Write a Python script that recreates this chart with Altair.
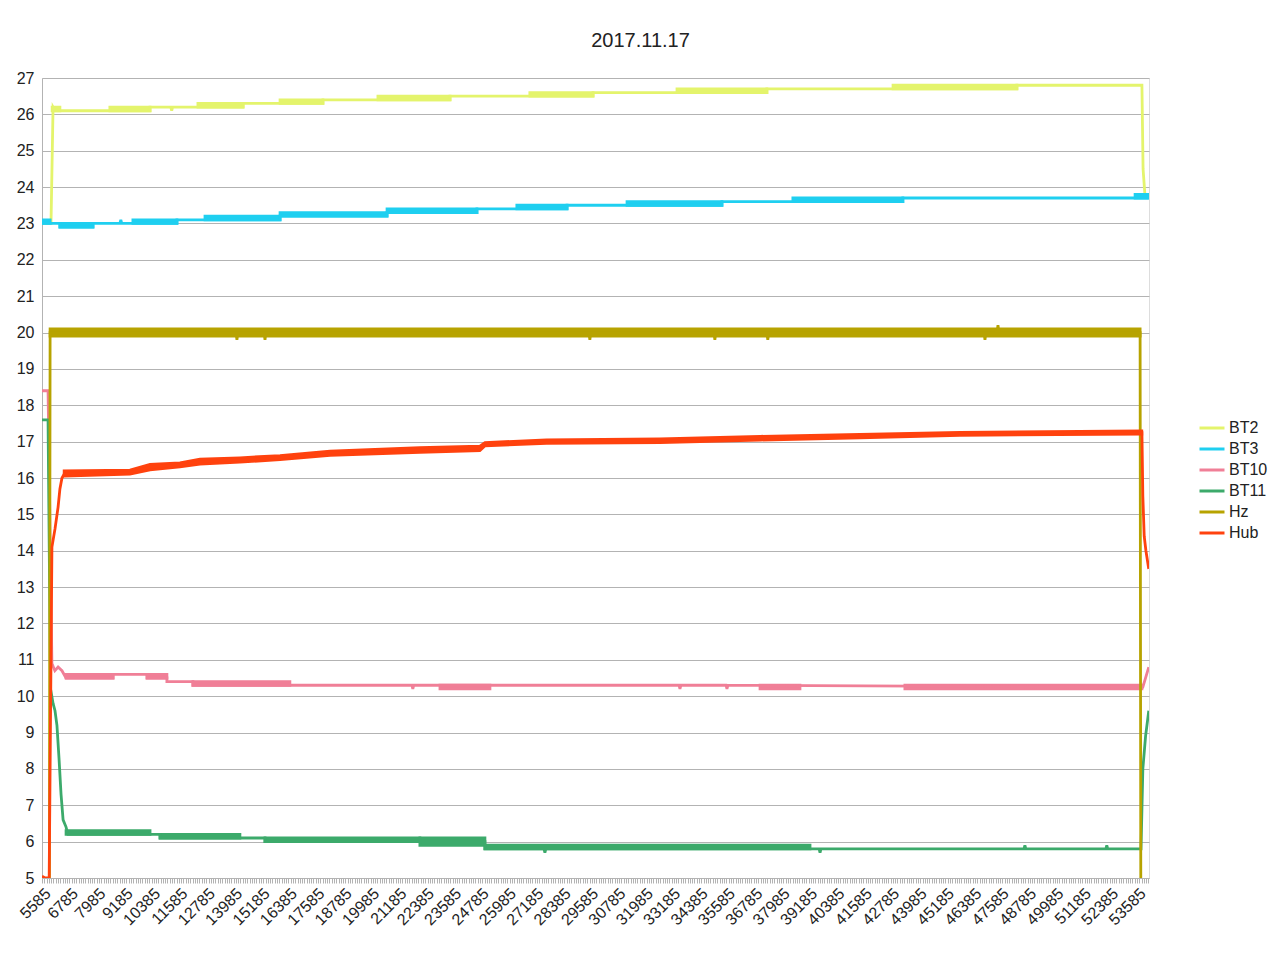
import altair as alt
import pandas as pd

SERIES = ["BT2", "BT3", "BT10", "BT11", "Hz", "Hub"]
COLORS = ["#e4f46c", "#1fcff0", "#f07f97", "#3caa6b", "#b7a300", "#ff420e"]

X_LABELS = [5585, 6785, 7985, 9185, 10385, 11585, 12785, 13985, 15185, 16385,
            17585, 18785, 19985, 21185, 22385, 23585, 24785, 25985, 27185, 28385,
            29585, 30785, 31985, 33185, 34385, 35585, 36785, 37985, 39185, 40385,
            41585, 42785, 43985, 45185, 46385, 47585, 48785, 49985, 51185, 52385,
            53585]
Y_TICKS = list(range(5, 28))

# ---- line paths (x, value) ----
BT2_X = [5585, 5980, 6070, 6160, 10320, 10320, 11230, 11270, 11310, 14400, 14400,
         17900, 17900, 23470, 23470, 29740, 29740, 37360, 37360, 48320, 48320,
         53800, 53850, 53930, 54060]
BT2_Y = [23.0, 23.0, 26.2, 26.1, 26.1, 26.2, 26.2, 26.1, 26.2, 26.2, 26.3,
         26.3, 26.4, 26.4, 26.5, 26.5, 26.6, 26.6, 26.7, 26.7, 26.8,
         26.8, 24.5, 23.8, 23.7]
BT2_BANDS = [(6030, 6370, 26.1, 26.2), (8560, 10320, 26.1, 26.2), (12420, 14400, 26.2, 26.3),
             (16020, 17900, 26.3, 26.4), (20310, 23470, 26.4, 26.5), (26970, 29740, 26.5, 26.6),
             (33420, 37360, 26.6, 26.7), (42890, 48320, 26.7, 26.8)]

BT3_X = [5585, 6370, 6370, 7820, 7820, 9000, 9040, 9080, 11500, 11500, 16020, 16020,
         20710, 20710, 24650, 24650, 28600, 28600, 35390, 35390, 43320, 43320, 54100]
BT3_Y = [23.0, 23.0, 22.9, 22.9, 23.0, 23.0, 23.1, 23.0, 23.0, 23.1, 23.1, 23.2,
         23.2, 23.3, 23.3, 23.4, 23.4, 23.5, 23.5, 23.6, 23.6, 23.7, 23.7]
BT3_BANDS = [(5585, 5940, 23.0, 23.1), (6370, 7820, 22.9, 23.0), (9570, 11500, 23.0, 23.1),
             (12730, 16020, 23.1, 23.2), (16020, 20710, 23.2, 23.3), (20710, 24650, 23.3, 23.4),
             (26400, 28600, 23.4, 23.5), (31230, 35390, 23.5, 23.6), (38500, 43320, 23.6, 23.7),
             (53500, 54100, 23.7, 23.8)]

BT10_X = [5585, 5850, 6020, 6150, 6290, 6460, 6640, 8700, 8700, 10190, 10190, 11060, 11060,
          12200, 12200, 21800, 21840, 21880, 33510, 33550, 33590, 35570, 35610, 35650,
          53840, 54100]
BT10_Y = [18.4, 18.4, 10.9, 10.7, 10.8, 10.7, 10.5, 10.5, 10.6, 10.6, 10.5, 10.5, 10.4,
          10.4, 10.3, 10.3, 10.2, 10.3, 10.3, 10.2, 10.3, 10.3, 10.2, 10.3,
          10.25, 10.8]
BT10_BANDS = [(6640, 8700, 10.5, 10.6), (10190, 11060, 10.5, 10.6), (12200, 16450, 10.3, 10.4),
              (23030, 25220, 10.2, 10.3), (37060, 38810, 10.2, 10.3), (43410, 53800, 10.2, 10.3)]

BT11_X = [5585, 5850, 5960, 6070, 6155, 6240, 6330, 6420, 6510, 6640, 6720, 10760, 10760,
          15360, 15360, 25000, 25000, 27590, 27630, 27670, 39650, 39690, 39730,
          48630, 48670, 48710, 52220, 52260, 52300, 53760, 53840, 53960, 54100]
BT11_Y = [17.6, 17.6, 10.2, 9.8, 9.6, 9.2, 8.3, 7.3, 6.6, 6.4, 6.2, 6.2, 6.1,
          6.1, 6.0, 6.0, 5.8, 5.8, 5.7, 5.8, 5.8, 5.7, 5.8,
          5.8, 5.9, 5.8, 5.8, 5.9, 5.8, 5.8, 8.0, 8.9, 9.6]
BT11_BANDS = [(6640, 10320, 6.2, 6.3), (10760, 14260, 6.1, 6.2), (15360, 22150, 6.0, 6.1),
              (22150, 25000, 5.9, 6.1), (25000, 39250, 5.8, 5.9)]

HZ_X = [5585, 5900, 5940, 14090, 14130, 14170, 15320, 15360, 15400, 29560, 29600, 29640,
        35040, 35080, 35120, 37360, 37400, 37440, 46880, 46920, 46960, 47450, 47490, 47530,
        53720, 53760, 54100]
HZ_Y = [0.0, 0.0, 20.0, 20.0, 19.8, 20.0, 20.0, 19.8, 20.0, 20.0, 19.8, 20.0,
        20.0, 19.8, 20.0, 20.0, 19.8, 20.0, 20.0, 19.8, 20.0, 20.0, 20.2, 20.0,
        20.0, 0.0, 0.0]
HZ_BANDS = [(5940, 53720, 19.9, 20.1)]

HUB_X = [5585, 5720, 5900, 6020, 6155, 6290, 6370, 6460, 6550, 9440, 10320, 11630, 12510,
         14260, 16020, 18210, 22150, 24780, 25000, 27700, 32670, 37060, 41440, 45820,
         53800, 53840, 53900, 53975, 54100]
HUB_Y = [5.05, 5.0, 5.0, 14.1, 14.6, 15.2, 15.7, 16.0, 16.1, 16.15, 16.3, 16.36, 16.45,
         16.5, 16.55, 16.68, 16.77, 16.82, 16.94, 17.0, 17.02, 17.1, 17.16, 17.21,
         17.25, 15.5, 14.4, 14.0, 13.5]
HUB_BAND_X = [6550, 9440, 10320, 11630, 12510, 14260, 16020, 18210, 22150, 24780, 25000,
              27700, 32670, 37060, 41440, 45820, 53800]
HUB_BAND_LO = [16.05, 16.1, 16.22, 16.3, 16.38, 16.43, 16.5, 16.62, 16.7, 16.75, 16.88,
               16.95, 16.97, 17.04, 17.1, 17.17, 17.2]
HUB_BAND_HI = [16.2, 16.22, 16.38, 16.42, 16.52, 16.56, 16.62, 16.74, 16.84, 16.88, 16.98,
               17.05, 17.08, 17.15, 17.2, 17.26, 17.3]

paths = {"BT2": (BT2_X, BT2_Y), "BT3": (BT3_X, BT3_Y), "BT10": (BT10_X, BT10_Y),
         "BT11": (BT11_X, BT11_Y), "Hz": (HZ_X, HZ_Y), "Hub": (HUB_X, HUB_Y)}
bands = {"BT2": BT2_BANDS, "BT3": BT3_BANDS, "BT10": BT10_BANDS,
         "BT11": BT11_BANDS, "Hz": HZ_BANDS}

line_rows = []
for s, (xs, ys) in paths.items():
    for i, (xv, yv) in enumerate(zip(xs, ys)):
        line_rows.append({"series": s, "x": xv, "y": yv, "order": i})
line_df = pd.DataFrame(line_rows)

band_rows = []
for s, bl in bands.items():
    for (x0, x1, lo, hi) in bl:
        band_rows.append({"series": s, "x0": x0, "x1": x1, "lo": lo, "hi": hi})
band_df = pd.DataFrame(band_rows)

hub_band_df = pd.DataFrame({"series": "Hub", "x": HUB_BAND_X, "lo": HUB_BAND_LO, "hi": HUB_BAND_HI})

FONT = "Liberation Sans"
GRID = "#b3b3b3"
X_DOMAIN = [5585, 54110]
MINOR = list(range(5585, 54110, 100))
label_expr = "indexof([" + ",".join(str(v) for v in X_LABELS) + "], datum.value) >= 0 ? '' + datum.value : ''"

xscale = alt.Scale(domain=X_DOMAIN, nice=False, zero=False)
yscale = alt.Scale(domain=[5, 27], nice=False, zero=False)
cscale = alt.Scale(domain=SERIES, range=COLORS)

x_axis = alt.Axis(values=MINOR, labelExpr=label_expr, labelAngle=-45, labelOverlap=False,
                  labelFontSize=16, labelFont=FONT, labelColor="#222", tickSize=5,
                  tickColor=GRID, domainColor=GRID, grid=False, title=None, labelPadding=2,
                  labelBound=False, labelFlush=False)
y_axis = alt.Axis(values=Y_TICKS, grid=True, gridColor=GRID, domainColor=GRID, tickSize=0,
                  labelPadding=8, labelFontSize=16, labelFont=FONT, labelColor="#222",
                  title=None, labelFlush=False)

legend = alt.Legend(title=None, orient="none", legendX=1162, legendY=342,
                    symbolType="M-2,0H2", symbolSize=156.25, symbolStrokeWidth=3,
                    labelFontSize=16, labelFont=FONT, labelColor="#222", labelOffset=9,
                    rowPadding=5, padding=0)

layers = []
for s, col in zip(SERIES, COLORS):
    if s in bands:
        layers.append(
            alt.Chart(band_df).transform_filter(alt.datum.series == s)
            .mark_rect(strokeWidth=2.8, clip=True, fill=col, stroke=col)
            .encode(x=alt.X("x0:Q", scale=xscale, axis=x_axis), x2="x1:Q",
                    y=alt.Y("lo:Q", scale=yscale, axis=y_axis), y2="hi:Q")
        )
    if s == "Hub":
        layers.append(
            alt.Chart(hub_band_df).mark_area(strokeWidth=2.5, clip=True, fill=col, stroke=col)
            .encode(x=alt.X("x:Q", scale=xscale, axis=x_axis),
                    y=alt.Y("lo:Q", scale=yscale, axis=y_axis), y2="hi:Q")
        )
    layers.append(
        alt.Chart(line_df).transform_filter(alt.datum.series == s)
        .mark_line(strokeWidth=2.8, clip=True, strokeJoin="miter")
        .encode(x=alt.X("x:Q", scale=xscale, axis=x_axis),
                y=alt.Y("y:Q", scale=yscale, axis=y_axis),
                order="order:Q",
                stroke=alt.Stroke("series:N", scale=cscale, legend=legend))
    )

chart = alt.layer(*layers).properties(
    width=1107, height=800,
    title=alt.TitleParams("2017.11.17", fontSize=20, font=FONT, fontWeight="normal",
                          color="#222", anchor="middle", dx=45, offset=3,
                          baseline="alphabetic"),
    autosize=alt.AutoSizeParams(type="none"),
    padding={"left": 34, "top": 70, "right": 122, "bottom": 72},
).configure_view(stroke=GRID, strokeWidth=1).configure(background="white")

chart.save("out.html", embed_options={"renderer": "svg", "actions": False})
